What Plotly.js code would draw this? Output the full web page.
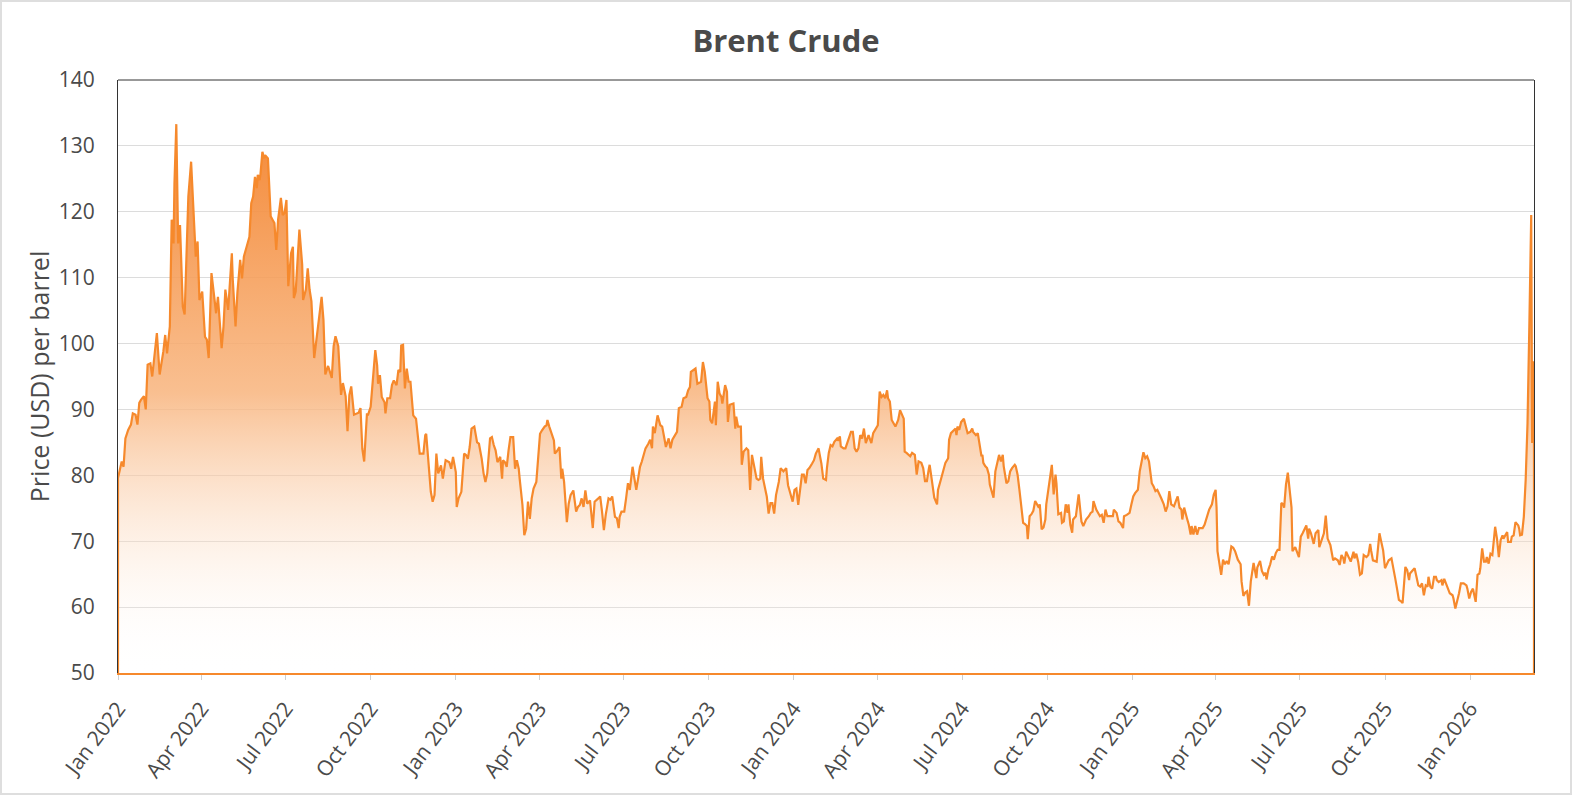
<!DOCTYPE html>
<html>
<head>
<meta charset="utf-8">
<script src="https://cdn.plot.ly/plotly-3.0.1.min.js"></script>
<style>
  html, body { margin: 0; padding: 0; background: #ffffff; }
  #chart { position: absolute; left: 0; top: 0; width: 1572px; height: 795px; }
  #frame { position: absolute; left: 0; top: 0; width: 1572px; height: 795px; box-sizing: border-box; border: 2px solid #dedede; pointer-events: none; z-index: 10; }
</style>
</head>
<body>
<div id="chart"></div>
<div id="frame"></div>
<script>
// Series start date; day offsets are days elapsed since this date.
const seriesStart = '2022-01-01';

const dayOffsets = [
0,4,6,8,11,14,16,19,21,23,25,28,30,32,35,37,42,45,49,51,53,56,58,60,61,63,65,67,70,72,74,76,79,81,84,86,88,91,94,96,98,
101,104,106,108,112,114,116,119,123,124,127,129,132,134,136,139,142,144,146,148,150,151,153,154,156,158,159,162,163,165,167,169,171,173,176,178,180,182,184,187,189,190,192,194,196,199,
200,203,205,207,209,212,215,217,220,222,224,227,229,231,233,235,238,241,243,246,248,250,252,255,260,262,264,266,
269,270,273,275,278,280,281,283,285,288,289,291,294,296,298,301,303,305,306,308,310,312,314,316,319,322,324,326,330,332,333,335,338,340,342,344,346,349,351,354,358,360,362,365,366,368,371,374,376,378,380,382,385,388,390,393,395,397,399,
402,404,406,408,410,413,415,416,418,420,422,424,427,429,431,433,434,437,439,441,443,445,447,449,452,454,456,458,461,463,464,466,469,471,472,474,477,479,480,482,485,487,489,492,495,497,499,501,503,505,507,510,
513,515,519,521,523,525,527,530,532,534,537,539,541,542,544,547,549,551,553,556,558,560,562,564,566,568,570,573,575,577,578,580,582,583,586,588,590,592,595,597,599,
602,604,606,609,611,614,616,618,619,622,624,626,630,632,634,637,639,640,642,645,646,648,650,652,653,656,658,659,661,665,667,668,670,673,674,676,679,681,683,685,688,690,692,694,695,697,
701,703,705,707,709,711,714,716,719,722,724,726,729,731,733,735,737,739,741,743,745,747,750,752,754,757,758,760,762,765,
766,768,770,772,774,777,778,780,781,784,786,789,792,794,796,798,800,802,804,806,808,811,814,816,819,821,823,825,827,829,831,832,834,836,838,840,843,845,849,850,852,856,858,861,863,865,868,870,872,874,876,877,879,882,885,886,889,892,894,897,898,
900,903,905,906,907,909,911,914,915,918,921,923,924,927,929,931,933,934,935,937,939,941,942,944,946,948,950,952,954,956,957,960,962,964,966,969,970,972,974,976,978,980,982,983,985,987,989,991,993,995,996,998,
1000,1002,1003,1005,1007,1009,1011,1013,1014,1016,1019,
1020,1022,1024,1026,1027,1029,1031,1032,1035,1038,1040,1041,1043,1046,1049,1051,1053,1054,1057,1059,1061,1063,1065,1067,1069,1072,1075,1076,1079,1081,1083,1086,1087,1090,1093,1095,1097,1099,
1102,1104,1106,1108,1110,1112,1114,1115,1117,1119,1121,1123,1125,1127,1130,1132,1134,1136,1138,1141,1143,1145,1147,1149,1150,1152,1155,1157,1159,1160,1162,1164,1166,1168,1170,1172,1174,1177,1179,1182,1184,1186,1187,1188,1190,1192,1194,1196,1198,
1200,1203,1205,1207,1210,1213,1214,1216,1218,1220,1222,1224,1225,1227,1230,1231,1234,1236,1238,1240,1241,1243,1245,1247,1249,1251,1253,1255,1257,1259,1260,1262,1264,1266,1268,1269,
1272,1276,1278,1280,1282,1284,1286,1287,1289,1292,1294,1297,1298,
1301,1303,1305,1307,1310,1313,1315,1318,1320,1322,1324,1325,1327,1330,1332,1335,1336,1338,1340,1342,1344,1346,1349,1351,1353,1354,1356,1360,1362,1363,1365,1367,1369,1371,1373,1376,1378,1380,1382,1384,1387,1388,1391,1393,1395,1396,1399,
1401,1403,1405,1407,1409,1411,1413,1415,1416,1418,1420,1422,1424,1425,1427,1430,1431,1433,1435,1437,1439,1442,1443,1445,1447,1449,1451,1454,1457,1458,1460,1462,1464,1467,1469,1471,1472,1474,1476,1478,1479,1481,1483,1485,1487,1488,1490,1492,1494,1496,1497,1499,
1501,1502,1505,1506,1508,1510,1513,1514,1515,1517,1519,1521,1523,1525,1527,1528,1530
];

const prices = [
79.6,82.1,81.3,85.6,86.9,87.7,89.4,89.2,87.7,91,91.5,92,90,96.8,97,95,101.6,95.3,98.8,101.3,98.5,102.6,118.8,115.2,124.3,133.3,115.2,118,105.6,104.4,113.7,122.3,127.6,121.8,113.2,115.5,106.6,107.9,101,100.6,97.8,
110.7,106.6,104.6,107.1,99.3,102.6,108.2,105.1,113.7,109.7,102.6,107.7,112.7,109.9,113.2,114.7,116.2,121.3,122.3,125.3,123.6,125.6,124.8,125.8,129.1,128.1,128.6,128.1,125.6,119.3,118.8,118.3,114.2,118.8,122.1,119.5,119.8,121.8,108.7,113.7,114.7,106.9,107.9,113,117.3,112,
106.6,108.2,111.4,108.2,106.4,97.8,101.3,103.6,107.1,103.6,95.3,96.6,95.8,94.8,99.6,101.1,99.6,92.2,94,92,86.7,92.2,93.5,89.2,89.5,90.2,84,82.1,
89.4,89.1,90.4,94.2,99,96.7,93.9,95.2,91.9,91.1,89.4,91.7,91.7,93.7,94.4,93.7,96,95.7,99.7,99.8,93.2,96.2,94.2,94.2,89.1,88.6,85.8,83.3,83.3,86.1,86.3,83.1,77.5,76,77,83.3,80.3,81.5,79.5,82.3,82,81,82.8,80.5,75.2,76.5,77.5,83.3,83.1,82.5,84.3,87.1,87.4,85,84.8,82.5,80.3,79,80.3,
85.6,85.8,84.6,83.8,82,82.8,79.5,82.3,82,81.3,83.8,85.8,85.8,81,82.3,81,79.5,75.5,70.9,71.9,76,73.4,76.5,78,79,82.8,86.3,86.8,87.4,87.6,88.4,87.4,86.3,85.3,83.3,83.6,84.3,79.5,81,79,72.9,75.7,77,77.7,74.5,75.2,75.5,76.5,75.2,77.7,75.7,76.2,
72,76,76.5,76.8,74.5,71.7,74,76.5,76.3,76.8,73.7,73.5,72,73.7,74.5,74.5,76.5,78.8,77.8,81.3,79.5,77.8,79.5,81.3,82.1,83.3,84.1,84.8,85.4,84.1,87.4,86.4,87.9,89.1,87.6,87.4,85.9,84.3,85.6,84.1,85.4,
86.1,86.6,90.2,90.4,91.7,91.9,92.9,93.4,95.7,96,96.2,93.9,94.2,97.2,95.7,91.7,91.2,88.4,87.9,91.2,87.6,94.2,92.4,91.9,90.9,93.7,92.7,88.1,90.7,90.9,87.1,88.9,87.4,87.4,81.6,83.6,84.1,83.8,77.8,83.1,81.1,79.5,79.3,79.5,82.8,79.5,
76.8,74.2,75.8,75.8,74.2,77,79,81.1,80.6,81.1,78.5,77.3,76,77.8,78,75.5,77.8,80.1,80.1,78.8,80.8,81.1,81.8,82.3,83.3,84.1,83.3,81.8,79.5,79.3,
81.1,83.4,84.6,84.4,85.1,85.6,85.4,85.9,84.4,84.1,84.1,85.4,86.6,86.6,84.1,83.6,84.1,86.1,85.6,87.1,84.9,86.1,84.9,86.4,87.1,87.6,92.7,91.9,92.2,91.7,92.9,91.7,91.2,88.4,87.9,87.4,88.4,89.9,88.6,83.6,83.4,82.9,83.4,83.1,80.1,82.1,81.9,81.1,79.1,79.1,80.9,81.6,79.6,76.6,75.6,77.8,79.3,81.1,81.9,82.6,85.4,
86.4,86.9,87.1,86.1,87.4,86.9,88.1,88.6,88.1,86.4,86.6,87.1,86.6,86.1,86.4,84.9,82.9,83.1,81.9,81.4,81.1,80.1,78.6,77.6,76.6,80.6,81.9,83.1,82.1,83.1,81.4,78.8,79.1,80.6,81.1,81.6,81.4,80.1,77.8,75.1,72.8,72.6,72.3,70.3,73.8,74.1,74.6,76.1,75.6,75.1,75.6,71.8,
72.1,73.3,75.6,77.6,80.1,81.6,77.1,80.1,78.8,74.1,74.3,
72.8,73,75.6,74.3,75.6,72.5,71.3,73.3,73.8,77.1,74.5,73,72.3,73.3,73.8,74.3,74.5,76.1,74.8,74.3,73.8,74,72.8,74.8,73.8,73.8,73.8,74.8,74.3,73,72.8,72,73.8,74,74.3,75.6,76.8,77.3,
77.8,80.6,82.1,83.5,82.6,82.9,82.1,80.6,78.8,78.3,77.6,77.8,77.3,76.6,75.6,74.5,75.3,77.6,75.6,75.3,76.1,76.8,75.1,74.8,73.3,75.1,73.5,72.5,71,72.3,71,72.3,71,72,72,72,72.5,73.8,74.8,75.6,77.1,77.8,75.1,68.5,66.5,64.9,67.2,66.5,67,
66.5,69.2,69,68.5,67.2,66.5,63.9,61.7,62.2,62.4,60.2,63.9,64.9,66.7,64.4,66,67,65.5,64.9,65.2,64.2,65.7,66.5,67.7,67.2,68.2,68.7,68.7,75.8,75.6,75.1,78.6,80.4,77.8,75.1,68.5,
69.1,67.6,70.7,71.2,71.7,72.4,70.4,71.9,71.2,69.6,71.2,71.7,69.1,
70.4,71.2,73.9,70.4,69.4,67.1,67.4,67.1,66.4,67.9,67.4,66.6,68.4,67.6,66.9,68.4,67.4,68.1,66.9,64.9,65.1,67.9,67.6,67.9,69.6,68.6,67.1,66.9,69.9,71.2,69.9,68.6,65.9,66.6,67.1,67.4,65.6,64.4,62.8,61.1,60.8,60.6,66.1,65.6,64.1,65.1,65.6,
65.9,64.6,63.3,63.1,63.6,61.8,63.3,63.1,64.6,63.1,62.8,64.6,64.6,64.1,63.8,64.1,63.3,64.3,63.6,63.1,62.1,61.8,61.3,59.8,60.8,62.1,63.6,63.6,63.3,62.8,61.3,62.3,62.8,60.8,64.9,65.1,65.9,68.9,66.9,66.9,67.6,66.6,68.1,67.9,70.7,72.2,70.4,67.6,70.2,70.9,70.4,70.9,
71.4,69.9,69.9,70.7,70.9,72.9,72.4,71.9,70.9,71,73.7,79.3,87.9,103,119.5,84.9,97.3
];

const yAxisMin = 50;
const yAxisMax = 140;
const titleText = 'Brent Crude';
const yTitleText = 'Price (USD) per barrel';

const DAY_MS = 86400000;
const startMs = Date.parse(seriesStart + 'T00:00:00Z');
const dates = dayOffsets.map(d => new Date(startMs + d * DAY_MS).toISOString().slice(0, 10));

// Closed area outline: baseline at the axis minimum under first and last dates.
const areaX = [dates[0]].concat(dates, [dates[dates.length - 1]]);
const areaY = [yAxisMin].concat(prices, [yAxisMin]);

const orange = 'rgb(246,137,44)';
const textColor = '#4a4a4a';
const font = 'Open Sans, Lato, sans-serif';

const trace = {
  type: 'scatter',
  mode: 'lines',
  x: areaX,
  y: areaY,
  fill: 'toself',
  fillgradient: {
    type: 'vertical',
    start: yAxisMin,
    stop: 135,
    colorscale: [[0, 'rgba(255,255,255,0)'], [0.5, 'rgba(248,180,125,0.85)'], [1, 'rgba(243,128,40,0.95)']]
  },
  line: { color: orange, width: 2.2 },
  hoverinfo: 'skip',
  showlegend: false
};

const layout = {
  width: 1572,
  height: 795,
  margin: { l: 118, r: 38, t: 80, b: 122 },
  paper_bgcolor: '#ffffff',
  plot_bgcolor: '#ffffff',
  title: {
    text: '<b>' + titleText + '</b>',
    font: { family: font, size: 31, color: textColor },
    x: 0.5, xref: 'container', xanchor: 'center',
    y: 1 - 41 / 795, yref: 'container', yanchor: 'middle'
  },
  xaxis: {
    type: 'date',
    range: [dates[0], dates[dates.length - 1]],
    dtick: 'M3',
    tick0: seriesStart,
    tickformat: '%b %Y',
    tickangle: -53,
    tickfont: { family: font, size: 21, color: textColor },
    showgrid: false,
    zeroline: false,
    showline: true,
    linecolor: orange,
    linewidth: 2,
    ticks: 'outside',
    ticklen: 5,
    tickwidth: 1,
    tickcolor: '#cfcfcf',
    ticklabelstandoff: 8
  },
  yaxis: {
    range: [yAxisMin, yAxisMax],
    dtick: 10,
    tick0: 50,
    tickfont: { family: font, size: 21, color: textColor },
    showgrid: true,
    gridcolor: '#dcdcdc',
    gridwidth: 1,
    zeroline: false,
    showline: true,
    mirror: true,
    linecolor: '#333333',
    linewidth: 1,
    ticks: 'outside',
    ticklen: 18,
    tickcolor: 'rgba(0,0,0,0)',
    title: {
      text: yTitleText,
      font: { family: font, size: 25, color: textColor },
      standoff: 2
    }
  },
  shapes: [
    { type: 'line', xref: 'paper', yref: 'paper', x0: 0, x1: 1, y0: 1, y1: 1, line: { color: '#333333', width: 1 } }
  ]
};

Plotly.newPlot('chart', [trace], layout, { staticPlot: true, displayModeBar: false });
</script>
</body>
</html>
